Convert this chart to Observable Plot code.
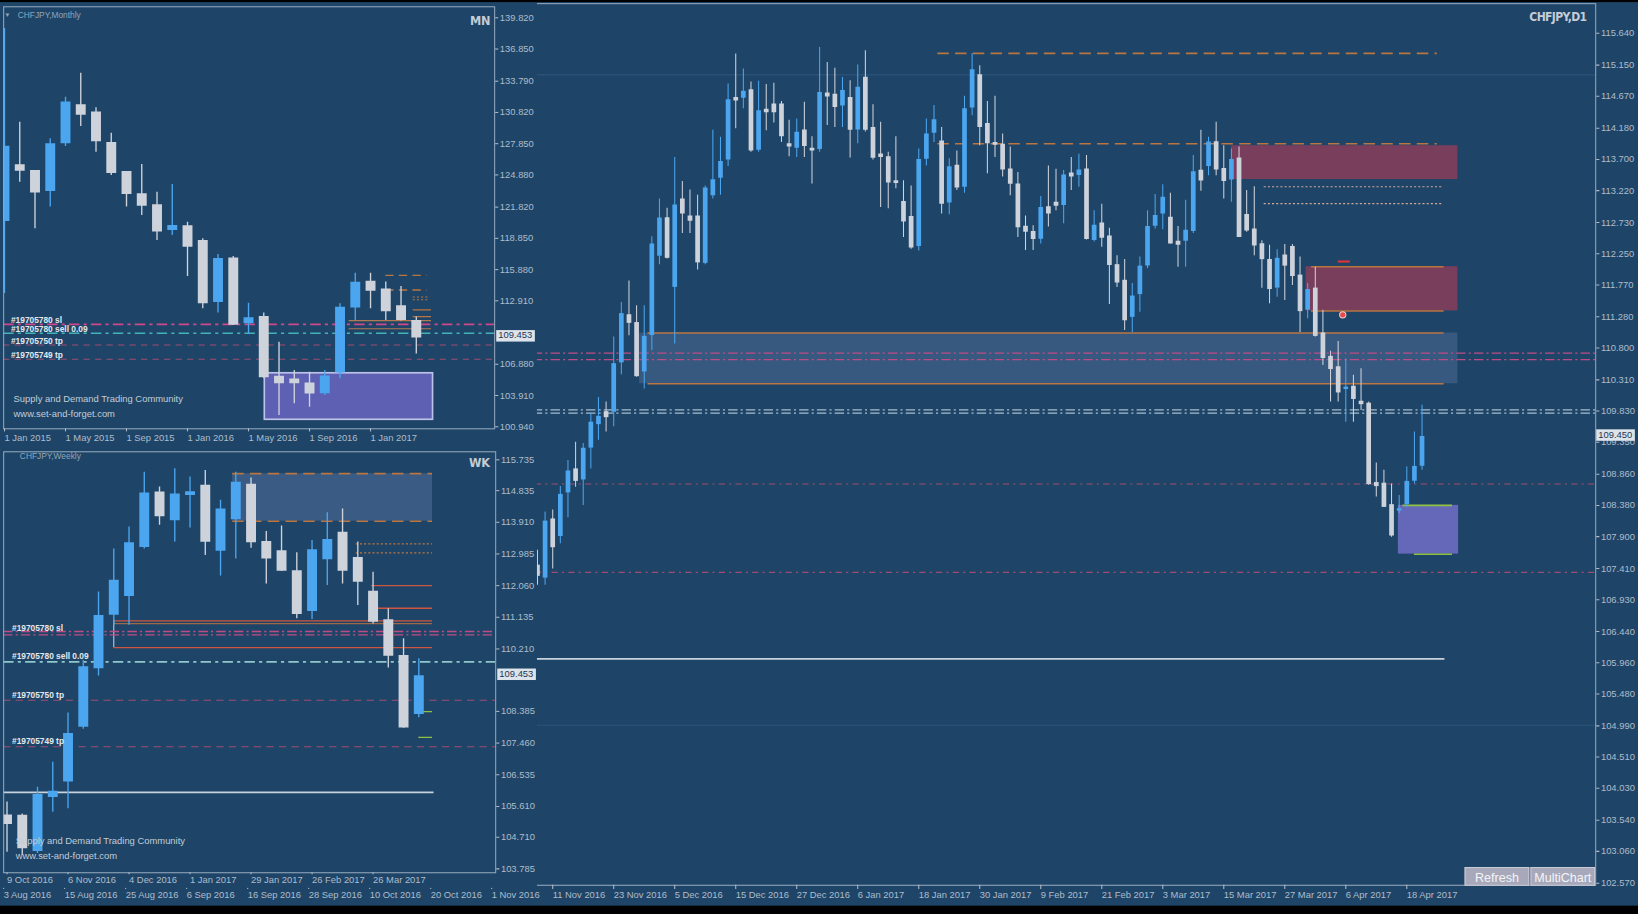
<!DOCTYPE html>
<html><head><meta charset="utf-8">
<script src="https://cdn.jsdelivr.net/npm/d3@7"></script>
<script src="https://cdn.jsdelivr.net/npm/@observablehq/plot@0.6"></script>
<style>
html,body{margin:0;padding:0;background:#000;width:1638px;height:914px;overflow:hidden;}
#stage{position:absolute;left:0;top:0;width:1568px;height:867px;transform:scale(1.04464,1.04457);transform-origin:0 0;background:#1e4567;font-family:"Liberation Sans",Arial,sans-serif;overflow:hidden;}
.abs{position:absolute;white-space:nowrap;line-height:1;}
.panel{position:absolute;background:#1e4567;}
.ttl{color:#8fa6bc;font-size:8px;}
.big{font-family:"DejaVu Sans Condensed","DejaVu Sans",sans-serif;font-weight:bold;color:#c4ccd6;font-size:12px;letter-spacing:-0.3px;}
.brand{color:#c3ccd7;font-size:9px;}
.pbox{position:absolute;background:#dde3ea;color:#1f3550;font-size:9px;line-height:11px;padding:0 2px;}
.btn{position:absolute;background:#a7a9ba;color:#f4f4f8;font-size:12px;line-height:18px;text-align:center;border:1px solid #c9cad6;box-sizing:border-box;}
</style></head>
<body>
<div id="stage">
  <div id="daily" class="abs" style="left:0;top:0;"></div>
  <div id="monthly" class="panel" style="left:0;top:0;width:514px;height:430px;"></div>
  <div id="weekly" class="panel" style="left:0;top:430px;width:514px;height:420px;"></div>
  <div class="abs" style="left:0;top:0;width:1568px;height:2px;background:#000;"></div>
  <div class="abs ttl" style="left:4px;top:11px;font-size:6px;">▼</div>
  <div class="abs ttl" style="left:17px;top:11px;">CHFJPY,Monthly</div>
  <div class="abs ttl" style="left:19px;top:433px;">CHFJPY,Weekly</div>
  <div class="abs big" style="left:450px;top:14px;">MN</div>
  <div class="abs big" style="left:449px;top:437px;">WK</div>
  <div class="abs big" style="left:1464px;top:11px;font-size:11.5px;letter-spacing:-0.6px;">CHFJPY,D1</div>
  <div class="abs brand" style="left:13px;top:378px;">Supply and Demand Trading Community</div>
  <div class="abs brand" style="left:13px;top:392px;">www.set-and-forget.com</div>
  <div class="abs brand" style="left:15px;top:801px;">Supply and Demand Trading Community</div>
  <div class="abs brand" style="left:15px;top:815px;">www.set-and-forget.com</div>
  <div class="btn" style="left:1402px;top:830px;width:62px;height:18px;">Refresh</div>
  <div class="btn" style="left:1465px;top:830px;width:62px;height:18px;">MultiChart</div>
</div>
<script>
// ---------------- DATA ----------------
// Daily CHFJPY (bar index counted in trading days from 3 Aug 2016)
const dStart = 70;
const dOpen  = [107.45,107.25,108.16,107.89,108.56,108.93,108.76,109.25,109.61,109.81,
  109.80,110.56,111.30,111.18,110.42,110.98,112.20,112.79,111.72,113.08,
  112.82,112.82,112.09,113.13,113.40,113.68,114.64,114.63,114.76,113.83,
  114.46,114.54,114.54,113.93,113.86,114.14,113.86,113.84,114.71,114.69,
  114.51,114.64,114.14,114.95,114.18,113.77,113.73,113.36,113.04,112.81,
  112.35,113.69,114.09,113.97,113.02,113.60,113.26,114.48,114.99,114.24,
  113.95,113.92,113.54,113.31,112.66,112.58,112.46,112.96,113.03,112.98,
  113.48,113.44,113.54,112.44,112.71,112.51,112.07,111.83,111.26,111.61,
  112.05,112.66,112.85,112.80,112.43,112.43,112.58,113.52,113.58,113.96,
  113.55,113.37,113.71,112.84,112.62,112.39,112.15,111.71,112.22,112.35,
  111.91,111.37,111.71,111.02,110.66,110.50,110.15,110.20,109.97,109.94,
  108.72,108.71,108.38,108.28,108.38,108.74,108.97];
const dHigh  = [107.69,108.28,108.31,108.67,109.07,109.35,109.33,109.79,110.04,109.97,
  110.97,111.50,111.83,111.45,111.45,112.51,113.09,112.95,113.73,113.36,
  113.23,113.15,113.29,114.15,114.04,114.86,115.32,115.09,114.89,114.90,
  114.85,114.87,114.59,114.30,114.32,114.58,114.05,115.42,115.19,115.10,
  114.96,114.91,115.15,115.37,114.54,114.27,113.81,114.05,113.37,113.29,
  113.86,114.32,114.53,114.19,113.71,113.83,114.67,115.33,115.14,114.59,
  114.67,114.09,113.89,113.50,112.83,112.68,113.13,113.60,113.55,113.53,
  113.73,113.78,113.76,112.91,113.01,112.64,112.22,112.16,111.79,112.20,
  112.91,113.16,113.31,113.18,112.67,113.07,113.76,114.15,114.04,114.27,
  113.91,113.86,113.89,113.22,113.28,112.45,112.38,112.31,112.39,112.39,
  112.20,111.79,112.04,111.38,110.75,110.90,110.63,110.38,110.48,109.97,
  109.03,108.92,108.71,108.53,108.97,109.51,109.92];
const dLow   = [107.15,107.15,107.40,107.79,108.19,108.66,108.38,108.94,109.38,109.51,
  109.59,110.39,110.99,110.35,110.17,110.76,112.08,112.17,110.86,112.56,
  112.56,112.00,112.08,113.09,113.15,113.59,114.17,114.48,113.81,113.81,
  114.14,114.26,113.96,113.74,113.73,113.73,113.32,113.81,114.22,114.19,
  114.19,113.72,113.94,114.12,113.69,112.96,112.94,113.25,112.50,112.32,
  112.29,113.60,113.96,112.86,112.85,113.22,113.18,114.37,113.91,113.48,
  113.73,113.43,113.14,112.50,112.30,112.30,112.40,112.66,112.91,112.71,
  113.22,113.27,112.46,112.43,112.35,111.47,111.73,111.07,111.04,111.35,
  112.02,112.63,112.62,112.40,112.04,112.04,112.56,113.21,113.45,113.45,
  113.09,113.04,112.50,112.58,112.22,111.72,111.48,111.58,111.53,111.76,
  111.04,111.25,110.97,110.53,109.97,109.97,109.66,109.66,109.84,108.69,
  108.51,108.35,107.89,108.25,108.35,108.71,108.92];
const dClose = [107.30,108.15,107.74,108.56,108.92,108.76,109.27,109.67,109.76,109.74,
  110.57,111.34,111.19,110.37,110.99,112.41,112.81,112.19,113.01,112.87,
  112.76,112.12,113.27,113.40,113.68,114.63,114.61,114.76,113.84,114.46,
  114.43,114.43,114.06,113.90,114.13,113.91,113.84,114.74,114.67,114.51,
  114.77,114.16,114.82,114.16,113.73,113.74,113.35,113.34,112.75,112.35,
  113.71,114.10,114.32,113.02,113.60,113.27,114.49,115.09,114.20,113.95,
  113.93,113.55,113.33,112.66,112.59,112.48,112.97,112.87,112.99,113.47,
  113.44,113.55,112.48,112.70,112.50,112.08,111.81,111.23,111.61,112.07,
  112.68,112.85,113.13,112.41,112.39,112.62,113.52,113.38,113.98,113.55,
  113.37,113.71,112.51,112.61,112.38,112.17,111.71,112.19,112.07,111.91,
  111.37,111.71,110.99,110.65,110.48,110.12,110.21,110.02,109.94,108.71,
  108.68,108.36,107.92,108.34,108.76,108.99,109.45];
const dTickLabels = ["3 Aug 2016","15 Aug 2016","25 Aug 2016","6 Sep 2016","16 Sep 2016","28 Sep 2016",
  "10 Oct 2016","20 Oct 2016","1 Nov 2016","11 Nov 2016","23 Nov 2016","5 Dec 2016","15 Dec 2016",
  "27 Dec 2016","6 Jan 2017","18 Jan 2017","30 Jan 2017","9 Feb 2017","21 Feb 2017","3 Mar 2017",
  "15 Mar 2017","27 Mar 2017","6 Apr 2017","18 Apr 2017"];
const dYTicks = [115.640,115.150,114.670,114.180,113.700,113.220,112.730,112.250,111.770,111.280,
  110.800,110.310,109.830,109.350,108.860,108.380,107.900,107.410,106.930,106.440,105.960,105.480,
  104.990,104.510,104.030,103.540,103.060,102.570];

// Monthly CHFJPY, Jan 2015 .. Apr 2017
const mOpen  = [120.39,125.78,125.24,123.24,127.77,131.48,130.78,127.90,125.14,123.02,121.97,119.53,119.98,118.58,
  112.69,116.90,110.66,111.36,105.66,105.40,105.02,104.01,105.97,112.15,114.69,113.96,112.37,110.98];
const mHigh  = [138.80,129.89,125.30,128.31,132.27,134.55,131.26,128.85,125.20,125.87,123.24,123.97,120.39,118.80,
  117.32,117.13,112.69,111.74,108.98,106.29,106.13,106.29,112.63,115.54,115.54,114.69,114.27,111.36];
const mLow   = [113.60,124.19,119.76,121.82,127.58,129.48,127.04,124.83,121.82,121.02,118.65,119.12,115.22,112.15,
  111.74,110.57,109.71,105.50,102.01,103.12,102.80,103.91,105.50,111.04,112.15,111.04,110.98,107.85];
const mClose = [127.68,125.30,123.24,127.90,131.89,130.62,128.09,125.08,123.08,121.97,119.53,120.14,118.08,112.69,
  117.00,110.66,111.36,105.66,105.09,105.09,104.13,105.82,112.37,114.75,113.89,111.93,111.10,109.45];
const mTickLabels = ["1 Jan 2015","1 May 2015","1 Sep 2015","1 Jan 2016","1 May 2016","1 Sep 2016","1 Jan 2017"];
const mYTicks = [139.820,136.850,133.790,130.820,127.850,124.880,121.820,118.850,115.880,112.910,106.880,103.910,100.940];

// Weekly CHFJPY, weeks from 9 Oct 2016 .. 16 Apr 2017
const wOpen  = [105.34,105.33,104.27,105.85,106.30,107.90,109.61,111.17,111.72,113.15,114.77,113.93,114.67,114.97,
  113.04,113.96,115.00,113.33,113.06,112.47,111.28,112.79,113.60,112.86,111.87,111.04,110.00,108.27];
const wHigh  = [105.74,105.39,106.17,106.90,108.34,109.87,111.87,113.13,113.77,115.37,114.94,115.47,115.23,115.42,
  114.55,115.37,115.20,113.64,113.80,113.02,113.38,114.19,114.30,113.33,112.45,111.38,110.51,109.92];
const wLow   = [104.27,104.18,104.23,105.44,105.54,107.86,109.42,110.90,110.90,113.13,113.82,113.33,113.74,112.94,
  112.34,112.84,113.15,112.11,112.47,111.09,111.07,112.06,112.11,111.48,110.94,109.65,107.89,108.20];
const wClose = [105.10,104.39,105.98,106.07,107.76,109.71,111.21,112.24,113.33,114.79,114.09,114.76,114.82,113.35,
  114.32,115.10,113.33,112.86,112.50,111.24,113.13,113.43,112.50,112.18,111.01,110.02,107.92,109.45];
const wTickLabels = ["9 Oct 2016","6 Nov 2016","4 Dec 2016","1 Jan 2017","29 Jan 2017","26 Feb 2017","26 Mar 2017"];
const wYTicks = [115.735,114.835,113.910,112.985,112.060,111.135,110.210,108.385,107.460,106.535,105.610,104.710,103.785];

// Trade / zone levels (prices)
const orderLabels = ["#19705780 sl","#19705780 sell 0.09","#19705750 tp","#19705749 tp"];
const orderLevels = [110.67, 109.83, 108.71, 107.35];
const slLevels = [110.72, 110.62];
const entryLevels = [109.85, 109.80];
const tpLevels = [108.71, 107.35];
const roundLevels = [115.00, 105.00];
const baseLevel = 106.02;
const upperDashed = [115.33, 113.94];
const dottedLevels = [113.28, 113.02];
const redLevels = [112.06, 111.40];
const zone3Levels = [111.03, 110.25];
const greenLevels = [108.38, 107.63];
const lastPrice = 109.45;
// zones: [start, end (bar units), top, bottom]
const dZoneSupply = [[161.0,190.7,113.91,113.39],[170.8,190.7,112.05,111.37]];
const dZoneMid = [83.4,190.7,111.03,110.25];
const dZoneDemand = [182.9,190.8,108.38,107.63];
const mZoneDemand = [17.07,28.1,106.02,101.60];
const wZoneSupply = [14.8,27.9,115.33,113.94];

// ---------------- STYLE ----------------
const C = {bull:"#4ba5ef", bear:"#ced2db", axis:"#aebccb", frame:"#93a8bd",
  orange:"#bb7540", red:"#cf5540", pink:"#c04c86", teal:"#42b3b6", entry:"#a7bccd",
  tp:"#a04c72", maroon:"#7a3e5d", zoneBlue:"#37597f", purple:"#6567b9", white:"#c8d2dd", green:"#8fc23e"};

const rows = (o,h,l,c,start) => o.map((v,k)=>({t:start+k,o:v,h:h[k],l:l[k],c:c[k]}));
const col = d => d.c >= d.o ? C.bull : C.bear;
function candles(data, bw, ww) {
  return [
    Plot.ruleX(data,{x:"t",y1:"l",y2:"h",stroke:col,strokeWidth:ww,clip:true}),
    Plot.ruleX(data,{x:"t",y1:"o",y2:"c",stroke:col,strokeWidth:bw,insetTop:-0.7,insetBottom:-0.7,clip:true})
  ];
}
const seg = (levels, x1, x2) => levels.map(y=>({y,x1,x2}));
function hline(levels, x1, x2, opts) {
  return Plot.ruleY(seg(levels,x1,x2),{y:"y",x1:"x1",x2:"x2",clip:true,...opts});
}
function zoneRect(z, opts){ return Plot.rect([z],{x1:d=>d[0],x2:d=>d[1],y1:d=>d[2],y2:d=>d[3],...opts}); }
const style = {background:"transparent",color:C.axis,fontFamily:"Liberation Sans, Arial, sans-serif",fontSize:"9px",overflow:"visible"};
const fmt = d3.format(".3f");

function priceBox(plot, parent, left, price, label) {
  const y = plot.scale("y").apply(price);
  const b = document.createElement("div");
  b.className = "pbox"; b.textContent = label;
  b.style.left = left + "px"; b.style.top = (y - 6) + "px";
  parent.appendChild(b);
}

// ---------------- DAILY ----------------
const daily = rows(dOpen,dHigh,dLow,dClose,dStart);
const dPlot = Plot.plot({
  width:1568, height:867, marginLeft:0, marginRight:41, marginTop:3, marginBottom:20,
  style,
  x:{domain:[-0.411,208.77], axis:null},
  y:{domain:[102.539,116.095], axis:null},
  marks:[
    hline(roundLevels,-0.411,208.77,{stroke:"#2c557b",strokeWidth:1}),
    ...dZoneSupply.map(z=>zoneRect(z,{fill:C.maroon})),
    zoneRect(dZoneMid,{fill:C.zoneBlue}),
    zoneRect(dZoneDemand,{fill:C.purple}),
    hline(upperDashed,122.5,188,{stroke:C.orange,strokeWidth:1.5,strokeDasharray:"11,6"}),
    hline(dottedLevels,165.3,188.6,{stroke:"#d3a89c",strokeWidth:1,strokeDasharray:"2,2"}),
    hline(dZoneSupply.slice(1).flatMap(z=>[z[2],z[3]]),171.5,188.9,{stroke:C.orange,strokeWidth:1.5}),
    hline(zone3Levels,84.5,188.9,{stroke:C.orange,strokeWidth:1.5}),
    hline([greenLevels[0]],183.5,190,{stroke:C.green,strokeWidth:1.5}),
    hline([greenLevels[1]],185,190,{stroke:C.green,strokeWidth:1.5}),
    hline(slLevels,-0.411,208.77,{stroke:C.pink,strokeWidth:1.2,strokeDasharray:"9,3,2,3"}),
    hline(entryLevels,-0.411,208.77,{stroke:C.entry,strokeWidth:1.1,strokeDasharray:"9,3,2,3"}),
    hline(tpLevels,-0.411,208.77,{stroke:C.tp,strokeWidth:1,strokeDasharray:"6,4,2,4"}),
    hline([baseLevel],-0.411,189,{stroke:C.white,strokeWidth:1.6}),
    hline([112.13],175.0,176.6,{stroke:"#e03434",strokeWidth:2}),
    ...candles(daily,4.5,1),
    Plot.dot([{t:175.6,p:111.31}],{x:"t",y:"p",r:3,fill:"#e84848",stroke:"#f0d0d0",strokeWidth:1}),
    Plot.frame({stroke:C.frame,strokeWidth:1}),
    Plot.axisY(dYTicks,{anchor:"right",tickFormat:fmt,tickSize:3,tickPadding:2,color:C.axis,fontSize:9}),
    Plot.axisX(dTickLabels.map((_,k)=>k*8),{anchor:"bottom",tickFormat:k=>dTickLabels[k/8],tickSize:4,tickPadding:2,textAnchor:"start",color:C.axis,fontSize:9})
  ]
});
document.getElementById("daily").appendChild(dPlot);
priceBox(dPlot, document.getElementById("stage"), 1528, lastPrice, fmt(lastPrice));

// ---------------- MONTHLY ----------------
const monthly = rows(mOpen,mHigh,mLow,mClose,0);
const mx = [-0.055,32.137];
const mPlot = Plot.plot({
  width:514, height:430, marginLeft:3, marginRight:41, marginTop:6, marginBottom:20,
  style,
  x:{domain:mx, axis:null},
  y:{domain:[100.745,140.864], axis:null},
  marks:[
    zoneRect(mZoneDemand,{fill:"#5d60b3",stroke:"#bcc2ea",strokeWidth:1.6}),
    hline(upperDashed,25,27.7,{stroke:C.orange,strokeWidth:1.3,strokeDasharray:"8,5"}),
    hline(dottedLevels,26.8,27.9,{stroke:C.orange,strokeWidth:1,strokeDasharray:"2,2"}),
    hline(redLevels,26.8,28,{stroke:C.orange,strokeWidth:1.2}),
    hline(zone3Levels,22.6,28,{stroke:"#b27a52",strokeWidth:1}),
    hline([slLevels[0]-0.05],mx[0],mx[1],{stroke:"#d0488c",strokeWidth:1.6,strokeDasharray:"10,4,3,4"}),
    hline([orderLevels[1]],mx[0],mx[1],{stroke:C.teal,strokeWidth:1.6,strokeDasharray:"10,4,3,4"}),
    hline(tpLevels,mx[0],mx[1],{stroke:C.tp,strokeWidth:1,strokeDasharray:"6,5"}),
    ...candles(monthly,9.5,1.3),
    Plot.text(orderLabels,{y:(d,k)=>orderLevels[k],text:d=>d,frameAnchor:"left",dx:7,dy:-4,textAnchor:"start",fill:"#e4e8ee",fontSize:8,fontWeight:"bold"}),
    Plot.frame({stroke:C.frame,strokeWidth:1}),
    Plot.axisY(mYTicks,{anchor:"right",tickFormat:fmt,tickSize:3,tickPadding:2,color:C.axis,fontSize:9}),
    Plot.axisX(mTickLabels.map((_,k)=>k*4),{anchor:"bottom",tickFormat:k=>mTickLabels[k/4],tickSize:3,tickPadding:2,textAnchor:"start",color:C.axis,fontSize:9})
  ]
});
document.getElementById("monthly").appendChild(mPlot);
priceBox(mPlot, document.getElementById("monthly"), 475, lastPrice, "109.453");

// ---------------- WEEKLY ----------------
const weekly = rows(wOpen,wHigh,wLow,wClose,0);
const wx = [-0.22,32.04];
const wPlot = Plot.plot({
  width:514, height:420, marginLeft:3, marginRight:40, marginTop:2, marginBottom:15,
  style,
  x:{domain:wx, axis:null},
  y:{domain:[103.672,115.97], axis:null},
  marks:[
    zoneRect(wZoneSupply,{fill:"#3a5b83"}),
    hline(upperDashed,14.8,27.9,{stroke:C.orange,strokeWidth:1.6,strokeDasharray:"11,6"}),
    hline(dottedLevels,22.9,27.9,{stroke:C.orange,strokeWidth:1.2,strokeDasharray:"2,2"}),
    hline(redLevels,23.9,27.9,{stroke:C.red,strokeWidth:1.3}),
    hline([zone3Levels[0]],7,27.9,{stroke:C.red,strokeWidth:1.3}),
    hline([zone3Levels[0]-0.08],7,27.9,{stroke:"#9c6a48",strokeWidth:1}),
    hline([zone3Levels[1]],7,27.9,{stroke:C.red,strokeWidth:1.3}),
    Plot.ruleX([7],{y1:zone3Levels[1],y2:zone3Levels[0],stroke:"#c8d0da",strokeWidth:1}),
    hline(slLevels,wx[0],wx[1],{stroke:C.pink,strokeWidth:1.3,strokeDasharray:"9,3,2,3"}),
    hline([orderLevels[1]],wx[0],wx[1],{stroke:"#8fc7cc",strokeWidth:1.6,strokeDasharray:"10,4,3,4"}),
    hline(tpLevels,wx[0],wx[1],{stroke:C.tp,strokeWidth:1,strokeDasharray:"7,5"}),
    hline([baseLevel],wx[0],28,{stroke:C.white,strokeWidth:1.6}),
    hline(greenLevels,27,27.9,{stroke:C.green,strokeWidth:1.2}),
    ...candles(weekly,9.5,1.3),
    Plot.text(orderLabels,{y:(d,k)=>orderLevels[k],text:d=>d,frameAnchor:"left",dx:8,dy:-5,textAnchor:"start",fill:"#e4e8ee",fontSize:8,fontWeight:"bold"}),
    Plot.frame({stroke:C.frame,strokeWidth:1}),
    Plot.axisY(wYTicks,{anchor:"right",tickFormat:fmt,tickSize:3,tickPadding:2,color:C.axis,fontSize:9}),
    Plot.axisX(wTickLabels.map((_,k)=>k*4),{anchor:"bottom",tickFormat:k=>wTickLabels[k/4],tickSize:2,tickPadding:1,textAnchor:"start",color:C.axis,fontSize:9})
  ]
});
document.getElementById("weekly").appendChild(wPlot);
priceBox(wPlot, document.getElementById("weekly"), 476, lastPrice, "109.453");
</script>
</body></html>
